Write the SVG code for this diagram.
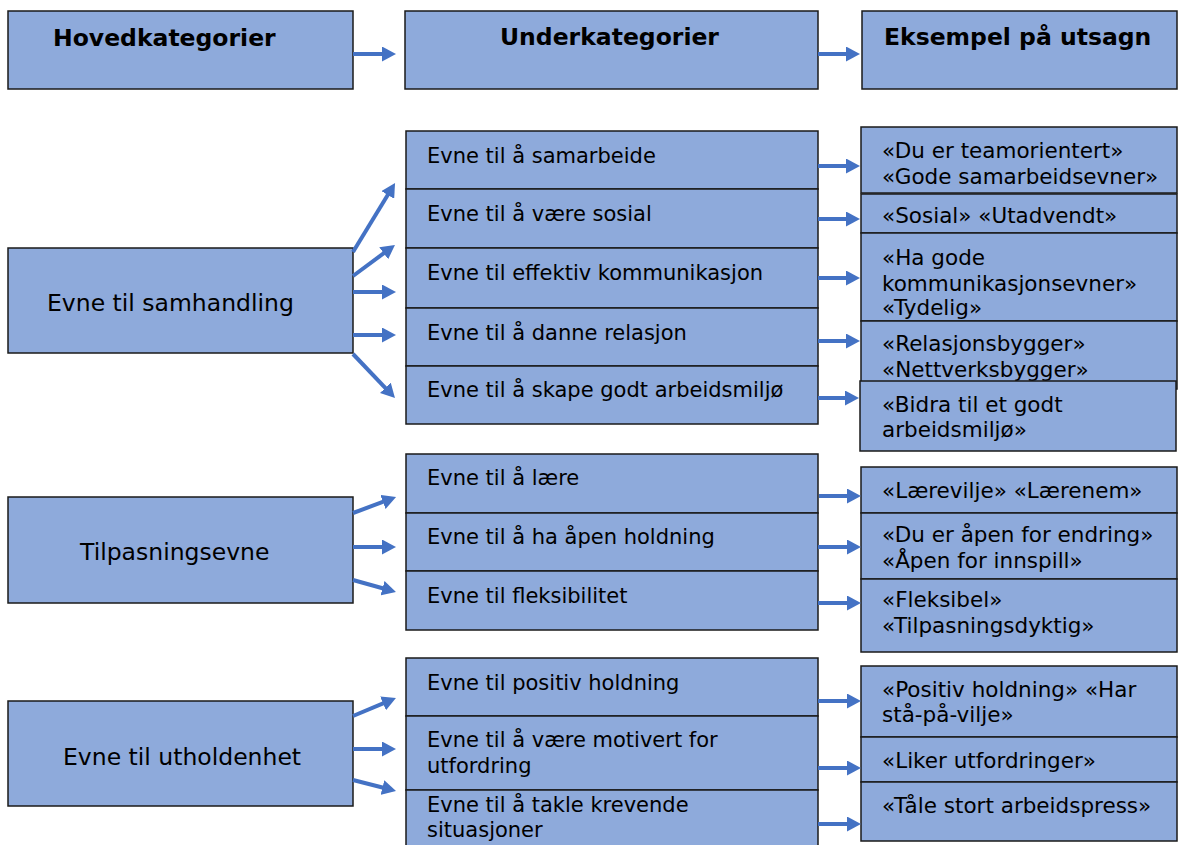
<svg xmlns="http://www.w3.org/2000/svg" width="1179" height="845" viewBox="0 0 1179 845">
<style>
.box{fill:#8EAADB;stroke:#1a1a1a;stroke-width:1.5}
.hd{font-family:"DejaVu Sans",Verdana,sans-serif;font-weight:bold;font-size:23.5px;fill:#000}
.mn{font-family:"DejaVu Sans",Verdana,sans-serif;font-size:23.5px;fill:#000}
.sb{font-family:"DejaVu Sans",Verdana,sans-serif;font-size:21px;fill:#000}
.ex{font-family:"DejaVu Sans",Verdana,sans-serif;font-size:21.5px;fill:#000}
.ar{stroke:#4472C4;stroke-width:4;fill:none;marker-end:url(#ah)}
</style>
<defs>
<marker id="ah" markerUnits="userSpaceOnUse" markerWidth="14" markerHeight="15" refX="2" refY="7.5" orient="auto">
<path d="M0,0 L14,7.5 L0,15 z" fill="#4472C4"/>
</marker>
</defs>
<rect width="1179" height="845" fill="#fff"/>

<g id="hdr-main"><rect class="box" x="8" y="11" width="345" height="78"/><text class="hd" x="53" y="46">Hovedkategorier</text></g>
<g id="hdr-sub"><rect class="box" x="405" y="11" width="413" height="78"/><text class="hd" x="500" y="45">Underkategorier</text></g>
<g id="hdr-ex"><rect class="box" x="862" y="11" width="315" height="78"/><text class="hd" x="884" y="45">Eksempel på utsagn</text></g>

<g id="m1"><rect class="box" x="8" y="248" width="345" height="105"/><text class="mn" x="47" y="311">Evne til samhandling</text></g>
<g id="m2"><rect class="box" x="8" y="497" width="345" height="106"/><text class="mn" x="80" y="560">Tilpasningsevne</text></g>
<g id="m3"><rect class="box" x="8" y="701" width="345" height="105"/><text class="mn" x="63" y="765">Evne til utholdenhet</text></g>

<g id="s1"><rect class="box" x="406" y="131" width="412" height="58"/><text class="sb" x="427" y="163">Evne til å samarbeide</text></g>
<g id="s2"><rect class="box" x="406" y="189" width="412" height="59"/><text class="sb" x="427" y="221">Evne til å være sosial</text></g>
<g id="s3"><rect class="box" x="406" y="248" width="412" height="60"/><text class="sb" x="427" y="280">Evne til effektiv kommunikasjon</text></g>
<g id="s4"><rect class="box" x="406" y="308" width="412" height="58"/><text class="sb" x="427" y="340">Evne til å danne relasjon</text></g>
<g id="s5"><rect class="box" x="406" y="366" width="412" height="58"/><text class="sb" x="427" y="397">Evne til å skape godt arbeidsmiljø</text></g>

<g id="s6"><rect class="box" x="406" y="454" width="412" height="59"/><text class="sb" x="427" y="485">Evne til å lære</text></g>
<g id="s7"><rect class="box" x="406" y="513" width="412" height="58"/><text class="sb" x="427" y="544">Evne til å ha åpen holdning</text></g>
<g id="s8"><rect class="box" x="406" y="571" width="412" height="59"/><text class="sb" x="427" y="603">Evne til fleksibilitet</text></g>

<g id="s9"><rect class="box" x="406" y="658" width="412" height="58"/><text class="sb" x="427" y="690">Evne til positiv holdning</text></g>
<g id="s10"><rect class="box" x="406" y="716" width="412" height="74"/><text class="sb" x="427" y="747">Evne til å være motivert for</text><text class="sb" x="427" y="773">utfordring</text></g>
<g id="s11"><rect class="box" x="406" y="790" width="412" height="70"/><text class="sb" x="427" y="812">Evne til å takle krevende</text><text class="sb" x="427" y="837">situasjoner</text></g>

<g id="e1"><rect class="box" x="861" y="127" width="316" height="66"/><text class="ex" x="882" y="158">«Du er teamorientert»</text><text class="ex" x="882" y="184">«Gode samarbeidsevner»</text></g>
<g id="e2"><rect class="box" x="861" y="194" width="316" height="39"/><text class="ex" x="882" y="223">«Sosial» «Utadvendt»</text></g>
<g id="e3"><rect class="box" x="861" y="233" width="316" height="88"/><text class="ex" x="882" y="265">«Ha gode</text><text class="ex" x="882" y="290.5">kommunikasjonsevner»</text><text class="ex" x="882" y="315">«Tydelig»</text></g>
<g id="e4"><rect class="box" x="861" y="321" width="316" height="68"/><text class="ex" x="882" y="351">«Relasjonsbygger»</text><text class="ex" x="882" y="377">«Nettverksbygger»</text></g>
<g id="e5"><rect class="box" x="860" y="381" width="316" height="70"/><text class="ex" x="882" y="412">«Bidra til et godt</text><text class="ex" x="882" y="437">arbeidsmiljø»</text></g>

<g id="e6"><rect class="box" x="861" y="467" width="316" height="46"/><text class="ex" x="882" y="498">«Lærevilje» «Lærenem»</text></g>
<g id="e7"><rect class="box" x="861" y="513" width="316" height="66"/><text class="ex" x="882" y="542">«Du er åpen for endring»</text><text class="ex" x="882" y="568">«Åpen for innspill»</text></g>
<g id="e8"><rect class="box" x="861" y="579" width="316" height="73"/><text class="ex" x="882" y="607">«Fleksibel»</text><text class="ex" x="882" y="633">«Tilpasningsdyktig»</text></g>

<g id="e9"><rect class="box" x="861" y="666" width="316" height="71"/><text class="ex" x="882" y="697">«Positiv holdning» «Har</text><text class="ex" x="882" y="722">stå-på-vilje»</text></g>
<g id="e10"><rect class="box" x="861" y="737" width="316" height="45"/><text class="ex" x="882" y="768">«Liker utfordringer»</text></g>
<g id="e11"><rect class="box" x="861" y="782" width="316" height="59"/><text class="ex" x="882" y="813">«Tåle stort arbeidspress»</text></g>

<g id="connectors">
<line class="ar" x1="353" y1="54" x2="384" y2="54"/>
<line class="ar" x1="818" y1="54" x2="848" y2="54"/>

<line class="ar" x1="353" y1="252" x2="388.8" y2="193.2"/>
<line class="ar" x1="353" y1="276" x2="385.3" y2="252.1"/>
<line class="ar" x1="353" y1="292" x2="384" y2="292"/>
<line class="ar" x1="353" y1="335" x2="384" y2="335"/>
<line class="ar" x1="353" y1="354" x2="386.7" y2="389.3"/>

<line class="ar" x1="818" y1="166" x2="848" y2="166"/>
<line class="ar" x1="818" y1="219" x2="848" y2="219"/>
<line class="ar" x1="818" y1="278" x2="848" y2="278"/>
<line class="ar" x1="818" y1="341" x2="848" y2="341"/>
<line class="ar" x1="818" y1="398" x2="847" y2="398"/>

<line class="ar" x1="353" y1="513" x2="384.8" y2="501.2"/>
<line class="ar" x1="353" y1="547" x2="384" y2="547"/>
<line class="ar" x1="353" y1="580" x2="384.4" y2="588.8"/>

<line class="ar" x1="819" y1="496" x2="849" y2="496"/>
<line class="ar" x1="818" y1="547" x2="849" y2="547"/>
<line class="ar" x1="818" y1="603" x2="849" y2="603"/>

<line class="ar" x1="353" y1="716" x2="384.9" y2="702.6"/>
<line class="ar" x1="353" y1="749" x2="384" y2="749"/>
<line class="ar" x1="353" y1="780" x2="384.4" y2="788"/>

<line class="ar" x1="818" y1="701" x2="849" y2="701"/>
<line class="ar" x1="818" y1="768" x2="849" y2="768"/>
<line class="ar" x1="818" y1="824" x2="849" y2="824"/>
</g>
</svg>
